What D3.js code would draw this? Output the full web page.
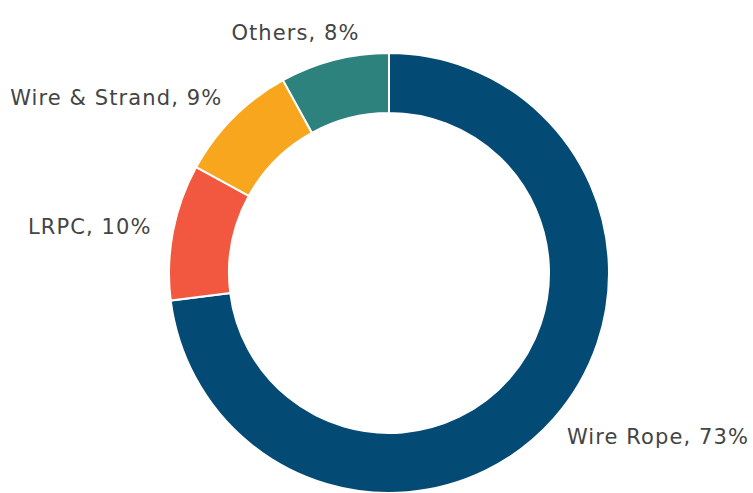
<!DOCTYPE html>
<html>
<head>
<meta charset="utf-8">
<script src="https://cdn.jsdelivr.net/npm/d3@7"></script>
<style>
  html, body { margin: 0; padding: 0; background: #fff; }
  svg { display: block; }
</style>
</head>
<body>
<svg id="chart"></svg>
<script>
  // Data
  const categories = ["Wire Rope", "LRPC", "Wire & Strand", "Others"];
  const shares = [73, 10, 9, 8];
  const colors = ["#034a74", "#f2573f", "#f8a61e", "#2e827d"];

  const width = 753;
  const height = 493;
  const cx = 389, cy = 273;
  const outerR = 220, innerR = 160;
  // labels: vertical position from the mid angle, horizontal on a circle
  const labelRY = 248;
  const labelRX = 242;
  const TEXT = "#444444";

  const svg = d3.select("#chart")
    .attr("width", width)
    .attr("height", height);

  const data = categories.map((c, i) => ({ name: c, value: shares[i], color: colors[i] }));

  const pie = d3.pie()
    .value(d => d.value)
    .sort(null);

  const arc = d3.arc()
    .innerRadius(innerR)
    .outerRadius(outerR);

  const g = svg.append("g")
    .attr("transform", `translate(${cx},${cy})`);

  const arcs = pie(data);

  g.selectAll("path.slice")
    .data(arcs)
    .join("path")
    .attr("class", "slice")
    .attr("d", arc)
    .attr("fill", d => d.data.color)
    .attr("stroke", "#fff")
    .attr("stroke-width", 2);

  g.selectAll("text.label")
    .data(arcs)
    .join("text")
    .attr("class", "label")
    .each(function(d) {
      const a = (d.startAngle + d.endAngle) / 2;
      const y = -Math.cos(a) * labelRY;
      const side = Math.sin(a) < 0 ? -1 : 1;
      const x = side * Math.sqrt(Math.max(labelRX * labelRX - y * y, 0));
      d3.select(this)
        .attr("x", x)
        .attr("y", y)
        .attr("dy", "0.35em")
        .attr("text-anchor", side < 0 ? "end" : "start");
    })
    .attr("font-family", "'DejaVu Sans', sans-serif")
    .attr("font-size", 21)
    .attr("letter-spacing", "1.1px")
    .attr("fill", TEXT)
    .text(d => `${d.data.name}, ${d.data.value}%`);
</script>
</body>
</html>
